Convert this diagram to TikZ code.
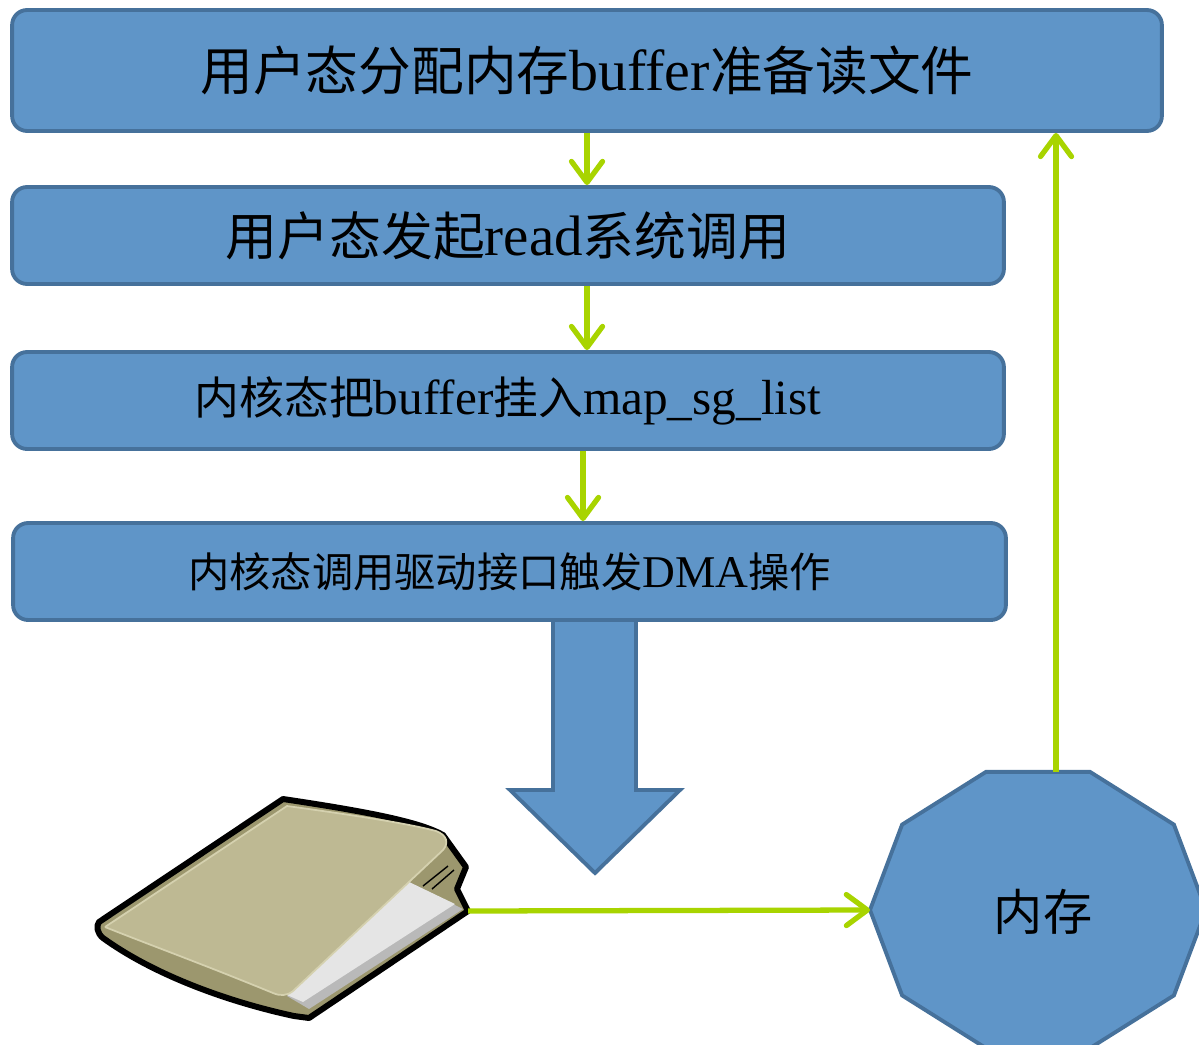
\documentclass[tikz,border=0pt]{standalone}
\usepackage{fontspec}
\setmainfont{Liberation Serif}[Scale=1.1]
\newfontfamily\zhfont{Noto Sans CJK SC}
\newcommand{\zh}[1]{{\zhfont #1}}
\usepackage{tikz}
\usetikzlibrary{positioning,arrows.meta}

\definecolor{boxfill}{HTML}{5F95C8}
\definecolor{boxline}{HTML}{46719B}
\definecolor{flow}{HTML}{A8D400}
\definecolor{folderback}{HTML}{9C976E}
\definecolor{folderfront}{HTML}{BEB993}
\definecolor{folderedge}{HTML}{D5D1AF}

\begin{document}
\begin{tikzpicture}[x=0.02cm,y=-0.02cm,
    stepbox/.style={draw=boxline,fill=boxfill,line width=2.2pt,
      rounded corners=0.3cm,inner sep=0pt},
    flowarrow/.style={draw=flow,line width=3pt,
      -{Straight Barb[length=0.42cm,width=0.62cm,round]}}]
  \useasboundingbox (0,0) rectangle (1199,1044);
  \clip (0,0) rectangle (1199,1044);

  % big arrow down to the disk
  \draw[draw=boxline,fill=boxfill,line width=2.2pt,line join=miter]
    (553,615) -- (553,790) -- (510,790) -- (595,873) -- (680,790)
    -- (636,790) -- (636,615) -- cycle;

  % the four steps
  \node[stepbox,minimum width=23cm,minimum height=2.42cm] (alloc) at (587,70.5)
    {\fontsize{30}{36}\selectfont\zh{用户态分配内存}buffer\zh{准备读文件}};
  \node[stepbox,minimum width=19.84cm,minimum height=1.94cm] (read) at (508,235.5)
    {\fontsize{29.5}{35}\selectfont\zh{用户态发起}read\zh{系统调用}};
  \node[stepbox,minimum width=19.84cm,minimum height=1.94cm] (sglist) at (508,400.5)
    {\fontsize{25.5}{30}\selectfont\zh{内核态把}buffer\zh{挂入}map\_sg\_list};
  \node[stepbox,minimum width=19.86cm,minimum height=1.94cm] (dma) at (509.5,571.5)
    {\fontsize{23.5}{28}\selectfont\zh{内核态调用驱动接口触发}DMA\zh{操作}};

  % memory (ten sides)
  \draw[draw=boxline,fill=boxfill,line width=2.2pt]
    plot[samples=11,domain=0:360,variable=\a] ({1038+168*cos(\a)},{910+145.3*sin(\a)}) -- cycle;
  \node (mem) at (1043,912) {\fontsize{28}{34}\selectfont\zh{内存}};
  \coordinate (memW) at (870,910);
  \coordinate (memN) at (1056,772);

  % the file
  \draw[fill=folderback,draw=black,line width=3.4pt,line join=round]
    (99,922) -- (283,799) .. controls (370,812) and (420,822) .. (443,835)
    -- (466,867) -- (457,889) -- (468,911) -- (309,1018) -- (294,1016)
    .. controls (220,1000) and (150,972) .. (103,938)
    .. controls (97,933) and (96,926) .. (99,922) -- cycle;
  \draw[black,line width=0.8pt] (423,886) -- (448,866) (432,889) -- (454,870);
  \fill[gray!55] (409,882) -- (463,909) -- (309,1009) -- (287,996) -- cycle;
  \fill[gray!20] (409,882) -- (455,904) -- (303,1002) -- (287,995) -- cycle;
  \draw[fill=folderfront,draw=folderedge,line width=1pt,line join=round]
    (105,927) -- (287,806) .. controls (360,816) and (410,824) .. (436,831)
    .. controls (447,835) and (449,843) .. (443,850) -- (293,991)
    .. controls (287,996) and (280,996) .. (273,993)
    .. controls (200,963) and (150,945) .. (105,927);
  \coordinate (file) at (468,911);

  % flow
  \draw[flowarrow] (alloc.south) -- (alloc.south |- read.north);
  \draw[flowarrow] (alloc.south |- read.south) -- (alloc.south |- sglist.north);
  \draw[flowarrow] ([xshift=-0.08cm]alloc.south |- sglist.south) -- ([xshift=-0.08cm]alloc.south |- dma.north);
  \draw[flowarrow] (file) -- (memW);
  \draw[flowarrow] (memN) -- (memN |- alloc.south);
\end{tikzpicture}
\end{document}
